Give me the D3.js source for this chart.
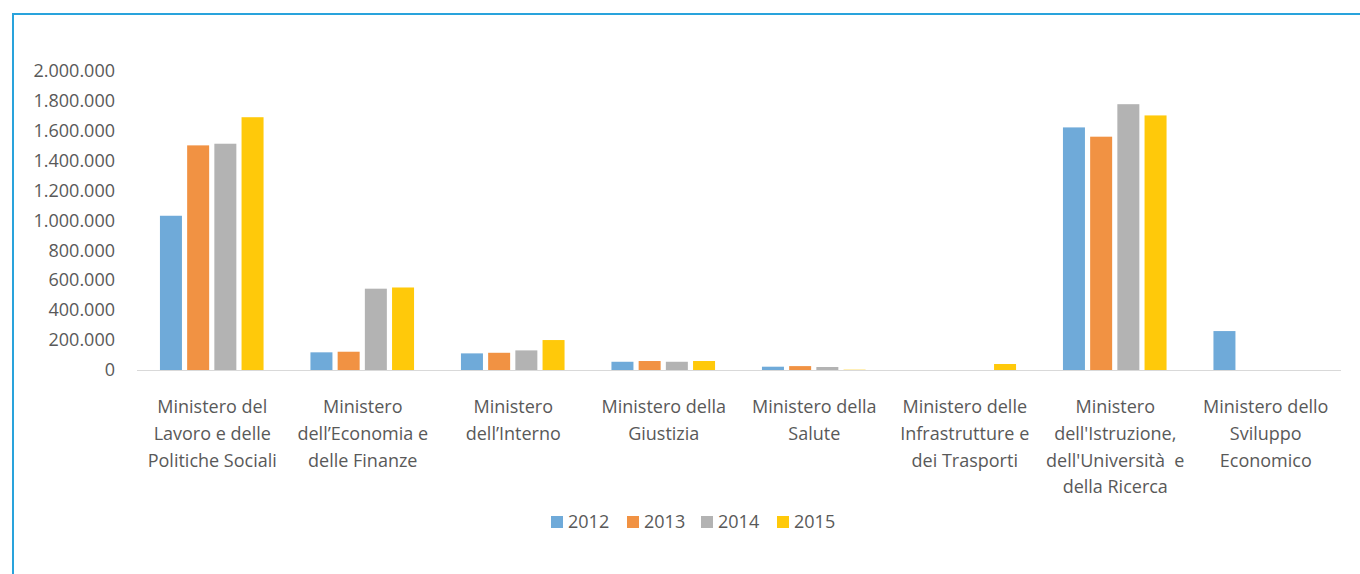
<!DOCTYPE html>
<html>
<head>
<meta charset="utf-8">
<script src="https://cdn.jsdelivr.net/npm/d3@7"></script>
<style>
  html, body { margin: 0; padding: 0; background: #fff; }
  svg { display: block; font-family: "Open Sans", "Noto Sans", sans-serif; }
</style>
</head>
<body>
<div id="chart"></div>
<script>
var categories = [
	["Ministero del", "Lavoro e delle", "Politiche Sociali"],
	["Ministero", "dell\u2019Economia e", "delle Finanze"],
	["Ministero", "dell\u2019Interno"],
	["Ministero della", "Giustizia"],
	["Ministero della", "Salute"],
	["Ministero delle", "Infrastrutture e", "dei Trasporti"],
	["Ministero", "dell'Istruzione,", "dell'Universit\u00e0  e", "della Ricerca"],
	["Ministero dello", "Sviluppo", "Economico"]
];
var years = ["2012", "2013", "2014", "2015"];
var colors = ["#6faad9", "#f19243", "#b3b3b3", "#ffc90a"];
var v2012 = [1030000, 118000, 111000, 55000, 22000, 0, 1620000, 260000];
var v2013 = [1500000, 122000, 115000, 60000, 26000, 0, 1558000, 0];
var v2014 = [1511000, 543000, 131000, 55000, 20000, 0, 1775000, 0];
var v2015 = [1688000, 551000, 200000, 60000, 2000, 40000, 1700000, 0];
var yTicks = [0, 200000, 400000, 600000, 800000, 1000000, 1200000, 1400000, 1600000, 1800000, 2000000];

var series = [v2012, v2013, v2014, v2015];
var width = 1360, height = 574;
var plotLeft = 137, plotRight = 1341, plotTop = 70.5, plotBottom = 370;
var fontSize = 18;

var svg = d3.select('#chart').append('svg')
	.attr('width', width)
	.attr('height', height);

// frame
svg.append('path')
	.attr('d', 'M13,' + height + ' V14 H' + width)
	.attr('fill', 'none')
	.attr('stroke', '#29a3dc')
	.attr('stroke-width', 2);

var x = d3.scaleBand().domain(d3.range(categories.length)).range([plotLeft, plotRight]);
var y = d3.scaleLinear().domain([0, 2000000]).range([plotBottom, plotTop]);
var barStep = 27.2, barWidth = 22;

var fmt = function(d){ return d === 0 ? '0' : d3.format(',')(d).replace(/,/g, '.'); };

// y axis labels
svg.selectAll('text.ytick')
	.data(yTicks).enter()
	.append('text')
	.attr('class', 'ytick')
	.attr('x', 115)
	.attr('y', function(d){ return y(d); })
	.attr('dy', '0.35em')
	.attr('text-anchor', 'end')
	.attr('font-size', fontSize)
	.attr('fill', '#595959')
	.text(fmt);

// bars
series.forEach(function(vals, s){
	svg.selectAll('rect.s' + s)
		.data(vals).enter()
		.append('rect')
		.attr('class', 's' + s)
		.attr('x', function(d, i){ return x(i) + x.bandwidth()/2 + (s - 2) * barStep + (barStep - barWidth)/2 - 0.5; })
		.attr('y', function(d){ return y(d); })
		.attr('width', barWidth)
		.attr('height', function(d){ return plotBottom - y(d); })
		.attr('fill', colors[s]);
});

// baseline
svg.append('line')
	.attr('x1', plotLeft).attr('x2', plotRight)
	.attr('y1', plotBottom + 0.5).attr('y2', plotBottom + 0.5)
	.attr('stroke', '#d9d9d9')
	.attr('stroke-width', 1);

// category labels
var cat = svg.selectAll('g.cat')
	.data(categories).enter()
	.append('g')
	.attr('class', 'cat')
	.attr('transform', function(d, i){ return 'translate(' + (x(i) + x.bandwidth()/2) + ',0)'; });
cat.selectAll('text')
	.data(function(d){ return d; }).enter()
	.append('text')
	.attr('x', 0)
	.attr('y', function(d, i){ return 407 + i * 26.7; })
	.attr('dy', '0.35em')
	.attr('text-anchor', 'middle')
	.attr('font-size', fontSize)
	.attr('fill', '#595959')
	.style('white-space', 'pre')
	.text(function(d){ return d; });

// legend
var legendX = [551, 627, 701, 777];
var lg = svg.selectAll('g.legend')
	.data(years).enter()
	.append('g')
	.attr('class', 'legend')
	.attr('transform', function(d, i){ return 'translate(' + legendX[i] + ',522)'; });
lg.append('rect')
	.attr('x', 0).attr('y', -6)
	.attr('width', 12).attr('height', 12)
	.attr('fill', function(d, i){ return colors[i]; });
lg.append('text')
	.attr('x', 17)
	.attr('y', 0)
	.attr('dy', '0.35em')
	.attr('font-size', fontSize)
	.attr('fill', '#595959')
	.text(function(d){ return d; });
</script>
</body>
</html>
